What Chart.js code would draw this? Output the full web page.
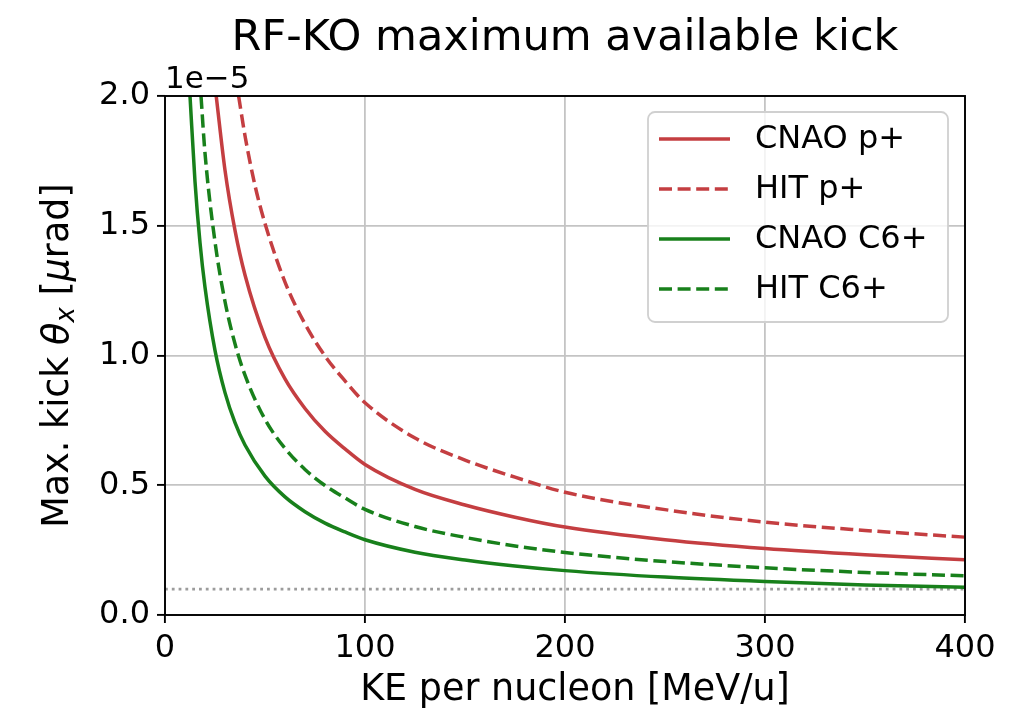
<!DOCTYPE html>
<html>
<head>
<meta charset="utf-8">
<script src="https://cdn.jsdelivr.net/npm/chart.js@4"></script>
<style>
    body { margin: 0; background: #fff; }
    #wrap { width: 1015px; height: 716px; }
</style>
</head>
<body>
<div id="wrap"><canvas id="kickChart"></canvas></div>
<script>
// values in units of 1e-5 (offset label drawn at top of y axis)
const keCnaoP = [25.6, 30, 35, 40, 50, 60, 70, 80, 90, 100, 125, 150, 175, 200, 250, 300, 350, 400];
const kickCnaoP = [2.0, 1.714, 1.482, 1.31, 1.07, 0.91, 0.796, 0.708, 0.64, 0.58, 0.484, 0.424, 0.377, 0.339, 0.29, 0.256, 0.232, 0.213];

const keHitP = [36.8, 40, 45, 50, 60, 70, 80, 90, 100, 125, 150, 175, 200, 250, 300, 350, 400];
const kickHitP = [2.0, 1.847, 1.655, 1.509, 1.283, 1.122, 0.998, 0.902, 0.818, 0.682, 0.597, 0.531, 0.473, 0.406, 0.358, 0.326, 0.300];

const keCnaoC6 = [12.5, 15, 17.5, 20, 25, 30, 35, 40, 50, 60, 70, 80, 90, 100, 125, 150, 175, 200, 250, 300, 350, 400];
const kickCnaoC6 = [2.0, 1.67, 1.435, 1.263, 1.02, 0.857, 0.741, 0.655, 0.535, 0.455, 0.398, 0.354, 0.32, 0.29, 0.242, 0.212, 0.189, 0.171, 0.146, 0.129, 0.116, 0.107];

const keHitC6 = [18.0, 20, 25, 30, 35, 40, 50, 60, 70, 80, 90, 100, 125, 150, 175, 200, 250, 300, 350, 400];
const kickHitC6 = [2.0, 1.78, 1.438, 1.208, 1.045, 0.924, 0.754, 0.642, 0.561, 0.499, 0.451, 0.407, 0.341, 0.299, 0.266, 0.241, 0.206, 0.182, 0.164, 0.151];

// horizontal reference level
const keLimit = [0, 400];
const kickLimit = [0.1, 0.1];

const xTicks = [0, 100, 200, 300, 400];
const yTicks = [0, 0.5, 1.0, 1.5, 2.0];

const RED = '#c43e41';
const GREEN = '#18801b';
const FONT = "'DejaVu Sans', sans-serif";

function toPoints(xs, ys) {
    return xs.map((x, i) => ({ x: x, y: ys[i] }));
}

function lineSet(label, xs, ys, color, dash) {
    return {
        label: label,
        data: toPoints(xs, ys),
        borderColor: color,
        borderWidth: 3.5,
        borderDash: dash,
        pointRadius: 0,
        cubicInterpolationMode: 'monotone',
        fill: false,
        clip: 0
    };
}

// titles, frame and legend drawn on top of the chart area
const decorPlugin = {
    id: 'decor',
    afterDatasetsDraw(chart) {
        const ctx = chart.ctx;
        const a = chart.chartArea;
        ctx.save();
        ctx.strokeStyle = '#000';
        ctx.lineWidth = 1.9;
        ctx.setLineDash([]);
        ctx.strokeRect(a.left, a.top, a.right - a.left, a.bottom - a.top);

        // legend
        const bx = 648, by = 112, bw = 300, bh = 210;
        ctx.beginPath();
        ctx.roundRect(bx, by, bw, bh, 7);
        ctx.fillStyle = 'rgba(255,255,255,0.8)';
        ctx.fill();
        ctx.strokeStyle = '#d0d0d0';
        ctx.lineWidth = 1.8;
        ctx.stroke();

        const items = chart.data.datasets.filter(d => !d.hideInLegend);
        ctx.font = '32px ' + FONT;
        ctx.textBaseline = 'middle';
        ctx.textAlign = 'left';
        items.forEach((d, i) => {
            const y = 139 + i * 50;
            ctx.beginPath();
            ctx.setLineDash(d.borderDash || []);
            ctx.strokeStyle = d.borderColor;
            ctx.lineWidth = d.borderWidth;
            ctx.moveTo(659, y);
            ctx.lineTo(730, y);
            ctx.stroke();
            ctx.setLineDash([]);
            ctx.fillStyle = '#000';
            ctx.fillText(d.label, 755, y + 1);
        });
        ctx.restore();
    },
    afterDraw(chart) {
        const ctx = chart.ctx;
        const a = chart.chartArea;
        const cx = (a.left + a.right) / 2;
        ctx.save();
        ctx.fillStyle = '#000';
        ctx.textBaseline = 'alphabetic';

        ctx.font = '43px ' + FONT;
        ctx.textAlign = 'center';
        ctx.fillText('RF-KO maximum available kick', cx, 50);

        ctx.font = '31px ' + FONT;
        ctx.textAlign = 'left';
        ctx.fillText('1e\u22125', a.left, 88);

        ctx.font = '36.5px ' + FONT;
        ctx.textAlign = 'center';
        ctx.fillText('KE per nucleon [MeV/u]', cx + 10, 700);

        // y label with italic math parts
        const parts = [
            { t: 'Max. kick ', f: '36.5px ' + FONT, dy: 0 },
            { t: '\u03b8', f: 'italic 36.5px ' + FONT, dy: 0 },
            { t: 'x', f: 'italic 26px ' + FONT, dy: 6 },
            { t: ' [', f: '36.5px ' + FONT, dy: 0 },
            { t: '\u03bc', f: 'italic 36.5px ' + FONT, dy: 0 },
            { t: 'rad]', f: '36.5px ' + FONT, dy: 0 }
        ];
        let total = 0;
        parts.forEach(p => { ctx.font = p.f; p.w = ctx.measureText(p.t).width; total += p.w; });
        ctx.translate(68, (a.top + a.bottom) / 2);
        ctx.rotate(-Math.PI / 2);
        ctx.textAlign = 'left';
        let x = -total / 2;
        parts.forEach(p => {
            ctx.font = p.f;
            ctx.fillText(p.t, x, p.dy);
            x += p.w;
        });
        ctx.restore();
    }
};

new Chart(document.getElementById('kickChart'), {
    type: 'line',
    data: {
        datasets: [
            lineSet('CNAO p+', keCnaoP, kickCnaoP, RED, []),
            lineSet('HIT p+', keHitP, kickHitP, RED, [13, 5.6]),
            lineSet('CNAO C6+', keCnaoC6, kickCnaoC6, GREEN, []),
            lineSet('HIT C6+', keHitC6, kickHitC6, GREEN, [13, 5.6]),
            Object.assign(lineSet('limit', keLimit, kickLimit, '#9c9c9c', [2.8, 4.0]), {
                borderWidth: 2.8,
                cubicInterpolationMode: 'default',
                hideInLegend: true
            })
        ]
    },
    options: {
        responsive: true,
        maintainAspectRatio: false,
        animation: false,
        layout: { padding: { left: 0, right: 50, top: 96, bottom: 0 } },
        plugins: {
            legend: { display: false },
            title: { display: false },
            tooltip: { enabled: false }
        },
        scales: {
            x: {
                type: 'linear',
                min: 0,
                max: 400,
                afterFit: s => { s.height = 101; },
                afterBuildTicks: s => { s.ticks = xTicks.map(v => ({ value: v })); },
                ticks: {
                    color: '#000',
                    font: { family: FONT, size: 32 },
                    padding: 6,
                    maxRotation: 0,
                    callback: v => String(v)
                },
                grid: { color: '#c4c4c4', lineWidth: 1.8, tickLength: 8, tickColor: '#000', tickWidth: 1.9 },
                border: { display: false }
            },
            y: {
                min: 0,
                max: 2.0,
                afterFit: s => { s.width = 165; },
                afterBuildTicks: s => { s.ticks = yTicks.map(v => ({ value: v })); },
                ticks: {
                    color: '#000',
                    font: { family: FONT, size: 32 },
                    padding: 7,
                    callback: v => v.toFixed(1)
                },
                grid: { color: '#c4c4c4', lineWidth: 1.8, tickLength: 8, tickColor: '#000', tickWidth: 1.9 },
                border: { display: false }
            }
        }
    },
    plugins: [decorPlugin]
});
</script>
</body>
</html>
